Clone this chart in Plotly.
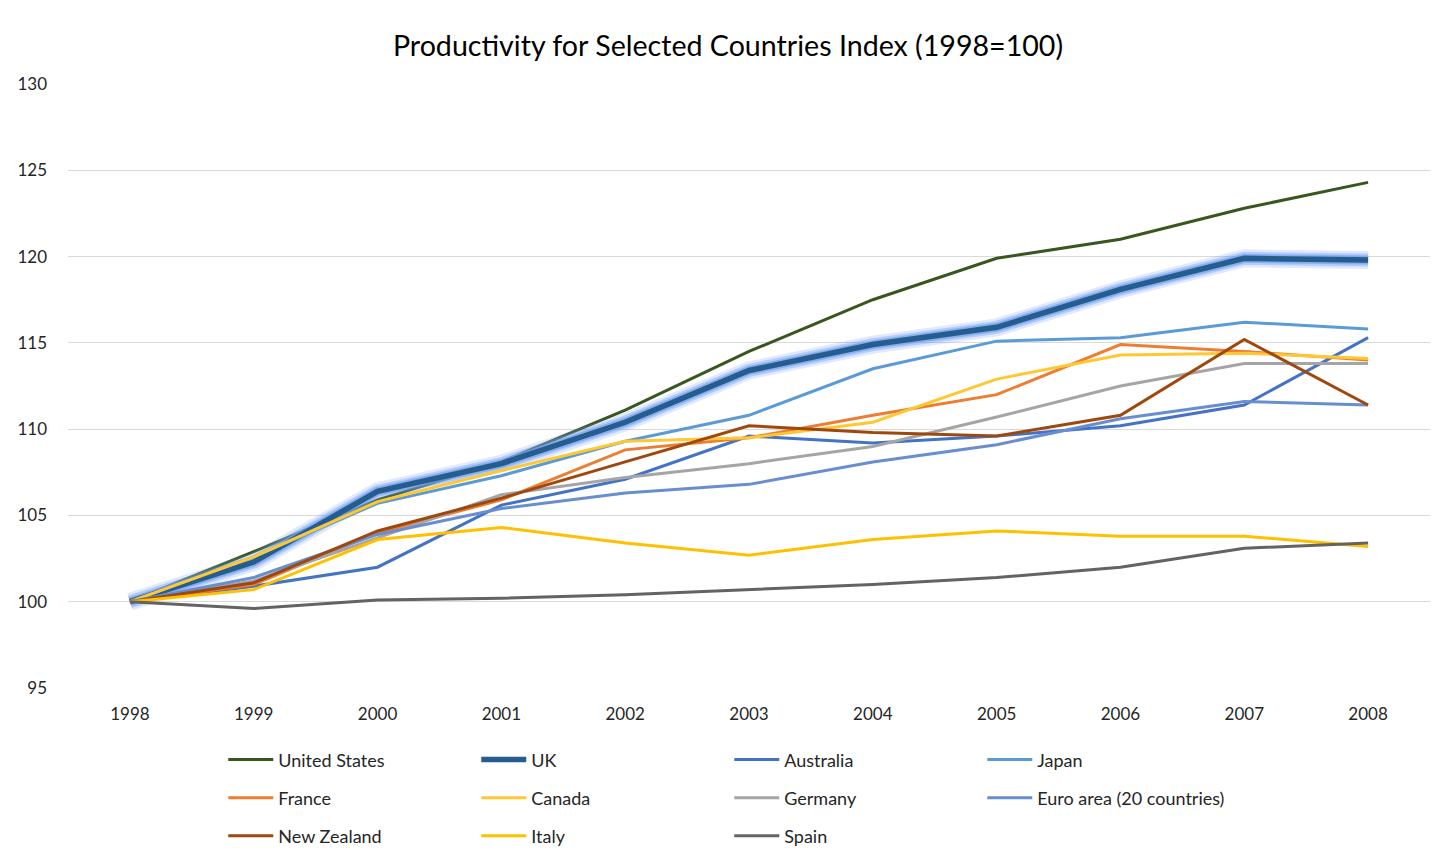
import plotly.graph_objects as go

years = [1998, 1999, 2000, 2001, 2002, 2003, 2004, 2005, 2006, 2007, 2008]

united_states = [100, 102.9, 105.9, 108.1, 111.1, 114.5, 117.5, 119.9, 121.0, 122.8, 124.3]
uk = [100, 102.3, 106.4, 108.0, 110.4, 113.4, 114.9, 115.9, 118.1, 119.9, 119.8]
australia = [100, 100.9, 102.0, 105.6, 107.1, 109.6, 109.2, 109.6, 110.2, 111.4, 115.3]
japan = [100, 102.6, 105.7, 107.3, 109.3, 110.8, 113.5, 115.1, 115.3, 116.2, 115.8]
france = [100, 101.0, 104.0, 105.9, 108.8, 109.5, 110.8, 112.0, 114.9, 114.5, 114.0]
canada = [100, 102.6, 105.8, 107.6, 109.3, 109.5, 110.4, 112.9, 114.3, 114.4, 114.1]
germany = [100, 101.2, 103.7, 106.2, 107.2, 108.0, 109.0, 110.7, 112.5, 113.8, 113.8]
euro_area = [100, 101.4, 103.9, 105.4, 106.3, 106.8, 108.1, 109.1, 110.6, 111.6, 111.4]
new_zealand = [100, 101.1, 104.1, 106.0, 108.1, 110.2, 109.8, 109.6, 110.8, 115.2, 111.4]
italy = [100, 100.7, 103.6, 104.3, 103.4, 102.7, 103.6, 104.1, 103.8, 103.8, 103.2]
spain = [100, 99.6, 100.1, 100.2, 100.4, 100.7, 101.0, 101.4, 102.0, 103.1, 103.4]

series = [
    ("United States", united_states, "#38571F", 3, "legend"),
    ("UK", uk, "#245D8E", 5.5, "legend"),
    ("Australia", australia, "#4472C4", 3, "legend"),
    ("Japan", japan, "#5B9BD5", 3, "legend"),
    ("France", france, "#ED7D31", 3, "legend2"),
    ("Canada", canada, "#FFC833", 3, "legend2"),
    ("Germany", germany, "#A5A5A5", 3, "legend2"),
    ("Euro area (20 countries)", euro_area, "#698ED0", 3, "legend2"),
    ("New Zealand", new_zealand, "#9E480E", 3, "legend3"),
    ("Italy", italy, "#FFC000", 3, "legend3"),
    ("Spain", spain, "#636363", 3, "legend3"),
]

font = "Lato, 'Open Sans', sans-serif"

fig = go.Figure()
for name, vals, color, width, leg in series:
    if name == "UK":
        # soft glow under the UK line
        for w, a in [(18, 0.22), (13, 0.4), (9, 0.7)]:
            fig.add_trace(go.Scatter(x=years, y=vals, mode="lines", showlegend=False,
                                     hoverinfo="skip",
                                     line=dict(color=f"rgba(115,160,240,{a})", width=w)))
    fig.add_trace(go.Scatter(x=years, y=vals, mode="lines", name=name, legend=leg,
                             line=dict(color=color, width=width)))

legend_common = dict(orientation="h", xanchor="left", yanchor="middle",
                     entrywidth=193, entrywidthmode="pixels",
                     font=dict(family=font, size=18, color="#262626"),
                     bgcolor="rgba(0,0,0,0)", itemwidth=45)

# page body has an 8px margin, so the figure is sized 16px smaller
fig.update_layout(
    width=1440, height=850,
    margin=dict(l=60, r=18, t=76, b=170, autoexpand=False),
    paper_bgcolor="white", plot_bgcolor="white",
    title=dict(text="Productivity for Selected Countries Index (1998=100)",
               x=0.5, xanchor="center", y=0.955, yanchor="middle",
               font=dict(family=font, size=28.6, color="#000000")),
    xaxis=dict(range=[1997.5, 2008.5], tickvals=years, showgrid=False,
               showline=False, zeroline=False, ticks="", automargin=False,
               ticklabelstandoff=14,
               tickfont=dict(family=font, size=17, color="#262626")),
    yaxis=dict(range=[95, 130], dtick=5, tick0=95, showgrid=True,
               gridcolor="#D9D9D9", gridwidth=1, zeroline=False, automargin=False,
               showline=False, ticks="", ticklabelstandoff=20,
               tickfont=dict(family=font, size=17, color="#262626")),
    legend=dict(x=0.114, y=-0.119, **legend_common),
    legend2=dict(x=0.114, y=-0.182, **legend_common),
    legend3=dict(x=0.114, y=-0.245, **legend_common),
)

fig.write_html("out.html")
